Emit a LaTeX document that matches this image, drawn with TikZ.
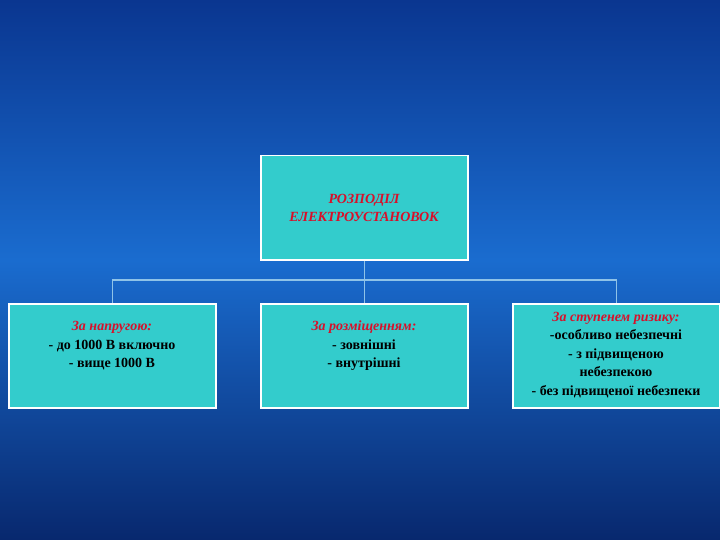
\documentclass[tikz,border=0pt]{standalone}
\usepackage{fontspec}
\setmainfont{Liberation Serif}
\begin{document}
\begin{tikzpicture}[x=1pt,y=-1pt,
  box/.style={draw=white,line width=1.5pt,fill=boxc,minimum width=207pt,minimum height=104pt,anchor=north west,inner sep=0pt},
  txt/.style={align=center,font=\bfseries\fontsize{14}{18.5}\selectfont,inner sep=0pt},
  conn/.style={draw=lightline,line width=1.2pt}]
\definecolor{boxc}{HTML}{33CCCC}
\definecolor{lightline}{HTML}{8FC3E8}
\definecolor{redt}{HTML}{D8102A}
\definecolor{bgtop}{HTML}{0A3690}
\definecolor{bgmid}{HTML}{1A6CCF}
\definecolor{bgbot}{HTML}{08286E}
\useasboundingbox (0,0) rectangle (720,540);
\clip (0,0) rectangle (720,540);
\shade[top color=bgtop,bottom color=bgmid] (0,0) rectangle (720,260);
\shade[top color=bgmid,bottom color=bgbot] (0,260) rectangle (720,540);
\node[box] (top) at (260,155) {};
\node[box] (b1) at (8,303) {};
\node[box] (b2) at (260,303) {};
\node[box] (b3) at (512,303) {};
\node[txt] (t0) at (364,208) {\textcolor{redt}{\itshape РОЗПОДІЛ}\\\textcolor{redt}{\itshape ЕЛЕКТРОУСТАНОВОК}};
\node[txt] (t1) at (112,346) {\textcolor{redt}{\itshape За напругою:}\\- до 1000 В включно\\- вище 1000 В};
\node[txt] (t2) at (364,346) {\textcolor{redt}{\itshape За розміщенням:}\\- зовнішні\\- внутрішні};
\node[txt] (t3) at (616,355) {\textcolor{redt}{\itshape За ступенем ризику:}\\-особливо небезпечні\\- з підвищеною\\небезпекою\\- без підвищеної небезпеки};
\coordinate (j) at (top.south |- 0,280);
\draw[conn] (top.south) -- (j);
\draw[conn] (b1.north) |- (j) -| (b3.north);
\draw[conn] (j) -- (b2.north);
\end{tikzpicture}
\end{document}
